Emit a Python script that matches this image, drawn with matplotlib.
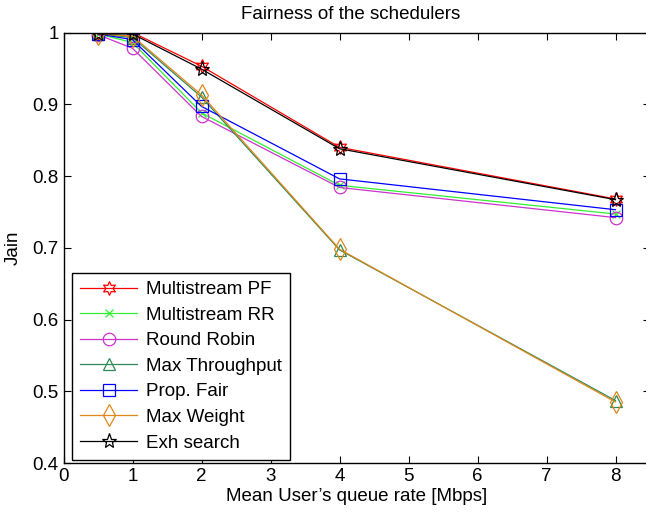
import matplotlib
matplotlib.use("Agg")
import matplotlib.pyplot as plt

plt.rcParams['font.family'] = ['Liberation Sans', 'DejaVu Sans']

rates = [0.5, 1, 2, 4, 8]

ms_pf = [1.0, 1.0, 0.953, 0.840, 0.768]
ms_rr = [0.998, 0.986, 0.888, 0.787, 0.747]
round_robin = [0.997, 0.978, 0.883, 0.784, 0.742]
max_thr = [0.998, 0.993, 0.910, 0.697, 0.487]
prop_fair = [0.998, 0.990, 0.897, 0.796, 0.753]
max_weight = [0.998, 0.995, 0.913, 0.698, 0.485]
exh = [0.998, 0.998, 0.949, 0.838, 0.767]

labels = ["Multistream PF", "Multistream RR", "Round Robin", "Max Throughput",
          "Prop. Fair", "Max Weight", "Exh search"]
colors = ["#ff0000", "#33ee33", "#cc33cc", "#2e8b57", "#0000ff", "#e0861a", "#000000"]
markers = [(6, 1, 0), "x", "o", "^", "s", "d", "*"]
msizes = [10, 6, 9, 9, 8, 11, 11]

fig = plt.figure(figsize=(6.46, 5.22), dpi=100)
ax = fig.add_axes([63.5 / 646, (522 - 463) / 522, (650 - 63.5) / 646, (463 - 32.5) / 522])

series = [ms_pf, ms_rr, round_robin, max_thr, prop_fair, max_weight, exh]
for vals, lab, c, m, s in zip(series, labels, colors, markers, msizes):
    ax.plot(rates, vals, color=c, marker=m, markersize=s, lw=0.9,
            markerfacecolor="none", markeredgecolor=c, markeredgewidth=0.9, label=lab)

ax.set_xlim(0, 8.5)
ax.set_ylim(0.4, 1.0)
ax.set_xticks(range(0, 9))
ax.set_yticks([0.4, 0.5, 0.6, 0.7, 0.8, 0.9, 1])
ax.set_yticklabels(["0.4", "0.5", "0.6", "0.7", "0.8", "0.9", "1"])
ax.tick_params(direction="in", top=True, right=True, labelsize=13.5, length=5, width=0.8)
for sp in ax.spines.values():
    sp.set_linewidth(1.0)

ax.set_title("Fairness of the schedulers", fontsize=13.5, pad=10, x=0.49)
ax.set_xlabel("Mean User\u2019s queue rate [Mbps]", fontsize=13.5, labelpad=2)
ax.set_ylabel("Jain", fontsize=13.5, labelpad=8)

leg = ax.legend(loc="lower left", bbox_to_anchor=(0.0145, 0.007), borderaxespad=0,
                fontsize=13.5, fancybox=False, edgecolor="black",
                framealpha=1, handlelength=3.0, labelspacing=0.45,
                handletextpad=0.5, borderpad=0.45)
leg.get_frame().set_linewidth(1.0)

fig.savefig("out.png", dpi=100)
